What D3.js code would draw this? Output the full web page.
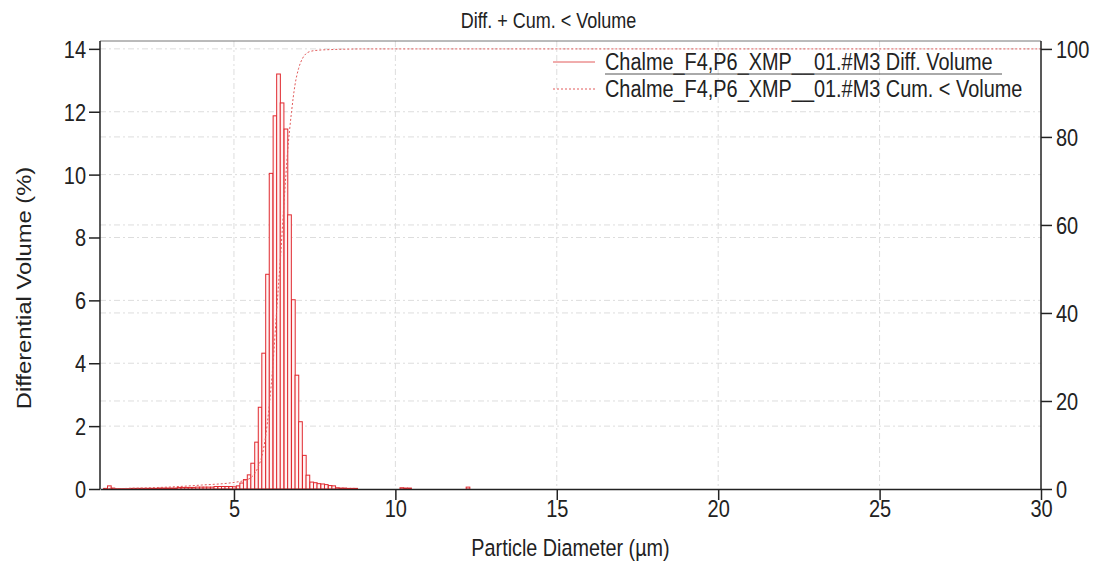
<!DOCTYPE html>
<html>
<head>
<meta charset="utf-8">
<script src="https://cdn.jsdelivr.net/npm/d3@7"></script>
<style>
body { margin: 0; background: #fff; }
text { font-family: "Liberation Sans", Arial, sans-serif; fill: #222; }
</style>
</head>
<body>
<div id="chart-area"></div>
<script>
// bin centres (µm) of the differential histogram
const binCenters = [1.02, 1.14, 1.25, 1.36, 1.48, 1.59, 1.71, 1.82, 1.93, 2.05,
    2.16, 2.28, 2.39, 2.50, 2.62, 2.73, 2.85, 2.96, 3.07, 3.19,
    3.30, 3.42, 3.53, 3.64, 3.76, 3.87, 3.99, 4.10, 4.21, 4.33,
    4.44, 4.56, 4.67, 4.78, 4.90, 5.01, 5.13, 5.24, 5.35, 5.47,
    5.58, 5.70, 5.81, 5.92, 6.04, 6.15, 6.27, 6.38, 6.49, 6.61,
    6.72, 6.84, 6.95, 7.06, 7.18, 7.29, 7.41, 7.52, 7.63, 7.75,
    7.86, 7.98, 8.09, 8.20, 8.32, 8.43, 8.55, 8.66, 8.77,
    10.20, 10.32, 10.44, 12.25];
// differential volume (%)
const diffVolume = [0.02, 0.10, 0.03, 0.01, 0.01, 0.01, 0.01, 0.02, 0.02, 0.02,
    0.02, 0.02, 0.02, 0.02, 0.02, 0.03, 0.03, 0.03, 0.03, 0.03,
    0.05, 0.05, 0.05, 0.05, 0.05, 0.06, 0.06, 0.06, 0.06, 0.06,
    0.08, 0.08, 0.08, 0.08, 0.08, 0.07, 0.10, 0.19, 0.30, 0.45,
    0.82, 1.49, 2.60, 4.32, 6.83, 10.04, 11.87, 13.20, 12.28, 11.45,
    8.72, 6.02, 3.62, 2.14, 1.07, 0.44, 0.22, 0.20, 0.17, 0.16,
    0.14, 0.11, 0.10, 0.04, 0.03, 0.03, 0.02, 0.02, 0.02,
    0.04, 0.03, 0.03, 0.06];
const BIN_W = 0.114; // µm

// cumulative < volume (%)
const cumDiam = [1.0, 2.0, 3.0, 4.0, 5.0, 5.30, 5.53, 5.64, 5.75, 5.87,
    5.98, 6.09, 6.21, 6.32, 6.44, 6.55, 6.66, 6.78, 6.89, 7.00,
    7.12, 7.23, 7.35, 7.60, 8.00, 8.50, 9.00, 30.0];
const cumVolume = [0.0, 0.2, 0.45, 0.9, 1.5, 1.9, 2.6, 3.5, 5.0, 7.6,
    11.9, 18.7, 28.5, 40.3, 52.5, 65.0, 76.5, 85.5, 91.8, 95.5,
    97.8, 98.9, 99.4, 99.7, 99.85, 99.95, 100, 100];

const xTicks = [5, 10, 15, 20, 25, 30];
const yTicks = [0, 2, 4, 6, 8, 10, 12, 14];
const y2Ticks = [0, 20, 40, 60, 80, 100];
const seriesNames = ["Chalme_F4,P6_XMP__01.#M3 Diff. Volume", "Chalme_F4,P6_XMP__01.#M3 Cum. < Volume"];

const W = 1097, H = 565;
const SY = 1.2; // the original text is stretched vertically
const plotLeft = 100, plotRight = 1041, plotTop = 41, plotBottom = 489;
const RED = "#e0282e";

const svg = d3.select("#chart-area").append("svg").attr("width", W).attr("height", H);
svg.append("rect").attr("width", W).attr("height", H).attr("fill", "#fff");

const x = d3.scaleLinear().domain([0.85, 30]).range([plotLeft, plotRight]);
const y = d3.scaleLinear().domain([0, 14.25]).range([plotBottom, plotTop]);
const y2 = d3.scaleLinear().domain([0, 101.8]).range([plotBottom, plotTop]);

// grid
const grid = svg.append("g").attr("stroke", "#dddddd").attr("stroke-width", 1).attr("stroke-dasharray", "6,3,2,3");
yTicks.filter(d => d > 0).forEach(d => grid.append("line").attr("x1", plotLeft).attr("x2", plotRight).attr("y1", y(d)).attr("y2", y(d)));
y2Ticks.filter(d => d > 0 && d < 100).forEach(d => grid.append("line").attr("x1", plotLeft).attr("x2", plotRight).attr("y1", y2(d)).attr("y2", y2(d)));
xTicks.filter(d => d < 30).forEach(d => grid.append("line").attr("x1", x(d)).attr("x2", x(d)).attr("y1", plotTop).attr("y2", plotBottom));

// bars
const bins = binCenters.map((c, i) => ({ c: c, v: diffVolume[i] }));
svg.append("g").selectAll("rect").data(bins).enter().append("rect")
    .attr("x", d => x(d.c - BIN_W / 2))
    .attr("width", d => x(d.c + BIN_W / 2) - x(d.c - BIN_W / 2))
    .attr("y", d => y(d.v))
    .attr("height", d => y(0) - y(d.v))
    .attr("fill", "#fff4f4")
    .attr("stroke", RED)
    .attr("stroke-width", 1);

// cumulative line
const cumLine = d3.line().x(d => x(d[0])).y(d => y2(d[1])).curve(d3.curveMonotoneX);
svg.append("path").datum(cumDiam.map((d, i) => [d, cumVolume[i]]))
    .attr("d", cumLine)
    .attr("fill", "none")
    .attr("stroke", "#e25a5a")
    .attr("stroke-width", 1)
    .attr("stroke-dasharray", "2,2");

// frame + axes
svg.append("line").attr("x1", plotLeft).attr("x2", plotRight).attr("y1", plotTop).attr("y2", plotTop).attr("stroke", "#777");

const fs = 20;
const xAxis = svg.append("g").attr("transform", `translate(0,${plotBottom})`)
    .call(d3.axisBottom(x).tickValues(xTicks).tickSize(11).tickSizeOuter(0));
xAxis.selectAll("text").attr("y", 0).attr("dy", "0.35em").attr("font-size", fs)
    .attr("transform", `translate(0,20) scale(1,${SY})`);

const yAxis = svg.append("g").attr("transform", `translate(${plotLeft},0)`)
    .call(d3.axisLeft(y).tickValues(yTicks).tickSize(11).tickPadding(3).tickSizeOuter(0));
yAxis.selectAll("text").attr("dy", "0.35em").attr("font-size", fs).attr("transform", `scale(1,${SY})`)
    .attr("y", 0);

const y2Axis = svg.append("g").attr("transform", `translate(${plotRight},0)`)
    .call(d3.axisRight(y2).tickValues(y2Ticks).tickSize(11).tickPadding(4).tickSizeOuter(0));
y2Axis.selectAll("text").attr("dy", "0.35em").attr("font-size", fs).attr("transform", `scale(1,${SY})`);

[xAxis, yAxis, y2Axis].forEach(a => {
    a.select(".domain").attr("stroke", "#222").attr("stroke-width", 1.5);
    a.selectAll(".tick line").attr("stroke", "#222").attr("stroke-width", 1.5);
    a.selectAll("text").attr("fill", "#222").attr("font-family", "Liberation Sans, Arial, sans-serif");
});
// extend vertical axes up to the frame top
yAxis.select(".domain").attr("d", `M0,${plotBottom}V${plotTop}`);
y2Axis.select(".domain").attr("d", `M0,${plotBottom}V${plotTop}`);

// titles
svg.append("text").attr("transform", `translate(${W / 2},20) scale(1,${SY})`)
    .attr("text-anchor", "middle").attr("dy", "0.35em").attr("font-size", 18)
    .text("Diff. + Cum. < Volume");
svg.append("text").attr("transform", `translate(${(plotLeft + plotRight) / 2},548) scale(1,${SY})`)
    .attr("text-anchor", "middle").attr("dy", "0.35em").attr("font-size", 19.8)
    .text("Particle Diameter (µm)");
svg.append("text").attr("transform", `translate(24,288) rotate(-90) scale(${SY},1)`)
    .attr("text-anchor", "middle").attr("dy", "0.35em").attr("font-size", 19.8)
    .text("Differential Volume (%)");

// legend
const legend = svg.append("g");
const legY = [62, 89];
legend.append("line").attr("x1", 553).attr("x2", 595).attr("y1", legY[0]).attr("y2", legY[0])
    .attr("stroke", "#e25a5a").attr("stroke-width", 1);
legend.append("line").attr("x1", 553).attr("x2", 595).attr("y1", legY[1]).attr("y2", legY[1])
    .attr("stroke", "#e25a5a").attr("stroke-width", 1).attr("stroke-dasharray", "2,2");
seriesNames.forEach((name, i) => {
    legend.append("text").attr("transform", `translate(605,${legY[i]}) scale(1,${SY})`)
        .attr("dy", "0.35em").attr("font-size", 19.9).text(name);
});
legend.append("line").attr("x1", 605).attr("x2", 1002).attr("y1", 74).attr("y2", 74)
    .attr("stroke", "#555").attr("stroke-width", 1);
</script>
</body>
</html>
